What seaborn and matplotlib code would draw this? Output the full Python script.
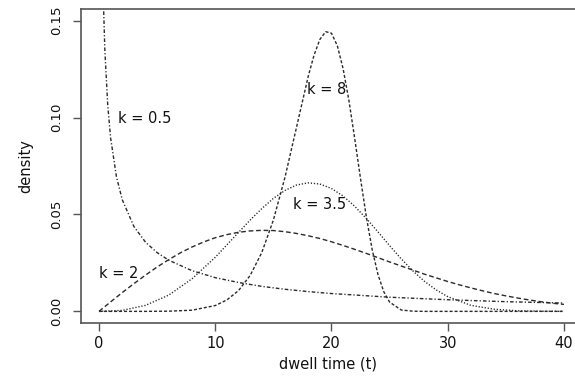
import matplotlib
matplotlib.use("Agg")
import matplotlib.pyplot as plt
import seaborn as sns
import pandas as pd

# ---- data ----
t_k05 = [0.25, 0.35, 0.5, 0.75, 1, 1.5, 2, 3, 4, 5, 6, 8, 10, 12, 14, 16, 18, 20, 25, 30, 35, 40]
d_k05 = [0.2000, 0.1656, 0.1350, 0.1064, 0.0894, 0.0694, 0.0576, 0.0438, 0.0357, 0.0303, 0.0264,
         0.0210, 0.0174, 0.0149, 0.0129, 0.0114, 0.0102, 0.0092, 0.0073, 0.0060, 0.0050, 0.0043]

t_k2 = list(range(0, 41))
d_k2 = [0.0, 0.0049, 0.0097, 0.0143, 0.0187, 0.0229, 0.0267, 0.0302, 0.0332, 0.0358, 0.0380,
        0.0396, 0.0408, 0.0415, 0.0418, 0.0417, 0.0411, 0.0402, 0.0390, 0.0376, 0.0359,
        0.0340, 0.0320, 0.0299, 0.0277, 0.0255, 0.0234, 0.0213, 0.0192, 0.0173, 0.0154,
        0.0137, 0.0121, 0.0106, 0.0092, 0.0080, 0.0069, 0.0059, 0.0050, 0.0042, 0.0036]

t_k35 = [0, 2, 4, 6, 8, 10, 12, 13, 14, 15, 16, 17, 18, 19, 20, 21, 22, 23, 24, 25, 26, 27, 28, 29,
         30, 32, 34, 36, 38, 40]
d_k35 = [0.0, 0.0005, 0.0031, 0.0084, 0.0168, 0.0279, 0.0407, 0.0471, 0.0530, 0.0583, 0.0624,
         0.0652, 0.0663, 0.0657, 0.0634, 0.0595, 0.0542, 0.0479, 0.0410, 0.0339, 0.0271, 0.0209,
         0.0155, 0.0111, 0.0076, 0.0031, 0.0011, 0.0003, 0.0001, 0.0]

t_k8 = [0, 2, 4, 6, 8, 10, 11, 12, 13, 14, 15, 16, 17, 18, 18.5, 19, 19.5, 20, 20.5, 21, 21.5,
        22, 22.5, 23, 23.5, 24, 24.5, 25, 26, 27, 28, 32, 36, 40]
d_k8 = [0.0, 0.0, 0.0, 0.0001, 0.0006, 0.0030, 0.0059, 0.0107, 0.0185, 0.0303, 0.0471, 0.0692,
        0.0952, 0.1213, 0.1322, 0.1403, 0.1443, 0.1435, 0.1371, 0.1252, 0.1088, 0.0891, 0.0684,
        0.0487, 0.0319, 0.0190, 0.0101, 0.0048, 0.0007, 0.0001, 0.0, 0.0, 0.0, 0.0]

labels = ["k = 0.5", "k = 2", "k = 3.5", "k = 8"]
label_x = [3.96, 1.72, 18.97, 19.57]
label_y = [0.0995, 0.0196, 0.0552, 0.1146]

x_ticks = [0, 10, 20, 30, 40]
y_ticks = [0.00, 0.05, 0.10, 0.15]
y_ticklabels = ["0.00", "0.05", "0.10", "0.15"]

# ---- plotting ----
sns.set_style("white")
plt.rcParams["font.family"] = ["DejaVu Sans"]
plt.rcParams["lines.scale_dashes"] = False

fig = plt.figure(figsize=(5.75, 3.77), dpi=100)
ax = fig.add_axes([81 / 575, 54 / 377, 494 / 575, 314 / 377])

line_col = "#2a2a2a"
lw = 1.0
series = [
    (t_k05, d_k05, (0, (0.9, 1.5, 2.6, 1.5))),
    (t_k2, d_k2, (0, (3.4, 2.0))),
    (t_k35, d_k35, (0, (0.9, 1.3))),
    (t_k8, d_k8, (0, (2.2, 1.4))),
]
for tt, dd, ls in series:
    df = pd.DataFrame({"t": tt, "density": dd})
    sns.lineplot(data=df, x="t", y="density", ax=ax, color=line_col, linewidth=lw,
                 linestyle=ls, estimator=None, sort=False)

for lab, lx, ly in zip(labels, label_x, label_y):
    ax.text(lx, ly, lab, ha="center", va="center", fontsize=10.5, color="#111111")

ax.set_xlim(-1.55, 40.95)
ax.set_ylim(-0.006, 0.156)
ax.set_xticks(x_ticks)
ax.set_xticklabels([str(v) for v in x_ticks])
ax.set_yticks(y_ticks)
ax.set_yticklabels(y_ticklabels, rotation=90, va="center")

for side in ["left", "bottom", "top"]:
    ax.spines[side].set_visible(True)
    ax.spines[side].set_color("#555555")
    ax.spines[side].set_linewidth(1.2)
ax.spines["right"].set_visible(False)

ax.tick_params(axis="both", direction="out", length=6, width=1.0, color="#555555",
               labelsize=10.5, labelcolor="#111111")
ax.tick_params(axis="x", pad=3, bottom=True)
ax.tick_params(axis="y", pad=7, left=True, labelsize=9.5)

ax.set_xlabel("dwell time (t)", fontsize=10.5, color="#111111", labelpad=4)
ax.set_ylabel("density", fontsize=10.5, color="#111111", labelpad=12)

fig.savefig("out.png", dpi=100)
